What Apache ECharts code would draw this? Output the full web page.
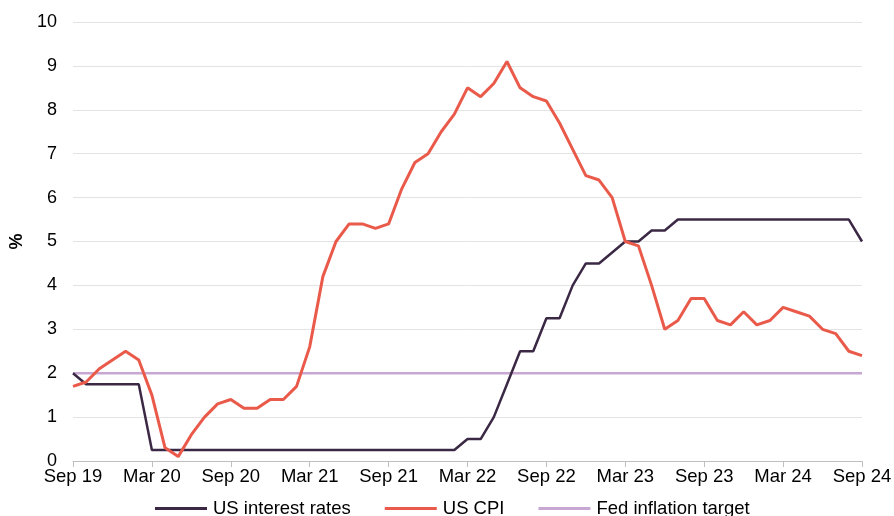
<!DOCTYPE html>
<html>
<head>
<meta charset="utf-8">
<script src="https://cdn.jsdelivr.net/npm/echarts@6/dist/echarts.min.js"></script>
<style>
  html, body { margin: 0; padding: 0; background: #fff; }
  #chart { width: 894px; height: 516px; }
</style>
</head>
<body>
<div id="chart"></div>
<script>
// monthly, Sep 2019 .. Sep 2024
const monthNames = ['Jan','Feb','Mar','Apr','May','Jun','Jul','Aug','Sep','Oct','Nov','Dec'];
const months = [];
for (let y = 2019, m = 8; y < 2024 || (y === 2024 && m <= 8); m++) {
  if (m === 12) { m = 0; y++; }
  months.push(monthNames[m] + ' ' + String(y).slice(2));
}

const interestRates = [
  2.0, 1.75, 1.75, 1.75, 1.75, 1.75, 0.25, 0.25, 0.25, 0.25, 0.25, 0.25,
  0.25, 0.25, 0.25, 0.25, 0.25, 0.25, 0.25, 0.25, 0.25, 0.25, 0.25, 0.25,
  0.25, 0.25, 0.25, 0.25, 0.25, 0.25, 0.5, 0.5, 1.0, 1.75, 2.5, 2.5,
  3.25, 3.25, 4.0, 4.5, 4.5, 4.75, 5.0, 5.0, 5.25, 5.25, 5.5, 5.5,
  5.5, 5.5, 5.5, 5.5, 5.5, 5.5, 5.5, 5.5, 5.5, 5.5, 5.5, 5.5, 5.0
];

const usCpi = [
  1.7, 1.8, 2.1, 2.3, 2.5, 2.3, 1.5, 0.3, 0.1, 0.6, 1.0, 1.3,
  1.4, 1.2, 1.2, 1.4, 1.4, 1.7, 2.6, 4.2, 5.0, 5.4, 5.4, 5.3,
  5.4, 6.2, 6.8, 7.0, 7.5, 7.9, 8.5, 8.3, 8.6, 9.1, 8.5, 8.3,
  8.2, 7.7, 7.1, 6.5, 6.4, 6.0, 5.0, 4.9, 4.0, 3.0, 3.2, 3.7,
  3.7, 3.2, 3.1, 3.4, 3.1, 3.2, 3.5, 3.4, 3.3, 3.0, 2.9, 2.5, 2.4
];

const fedTarget = months.map(() => 2);

const textFont = 'Liberation Sans, Arial, sans-serif';
const chart = echarts.init(document.getElementById('chart'));

const option = {
  animation: false,
  grid: { left: 73, right: 32, top: 22, bottom: 55, outerBoundsMode: 'none' },
  legend: {
    top: 499,
    left: 155,
    padding: 0,
    icon: 'rect',
    itemWidth: 52,
    itemHeight: 3,
    itemGap: 34,
    textStyle: { fontFamily: textFont, fontSize: 18.5, color: '#000', padding: [0, 0, 0, 1] },
    data: ['US interest rates', 'US CPI', 'Fed inflation target']
  },
  xAxis: {
    type: 'category',
    boundaryGap: false,
    data: months,
    axisLine: { lineStyle: { color: '#bfbfbf', width: 1 } },
    axisTick: { interval: 5, length: 6, lineStyle: { color: '#bfbfbf' } },
    axisLabel: {
      interval: 5,
      margin: 6,
      fontFamily: textFont,
      fontSize: 18.5,
      color: '#000'
    }
  },
  yAxis: {
    type: 'value',
    min: 0,
    max: 10,
    interval: 1,
    name: '%',
    nameLocation: 'middle',
    nameRotate: 90,
    nameGap: 43,
    nameTextStyle: { fontFamily: textFont, fontSize: 18, fontWeight: 'bold', color: '#000' },
    axisLine: { show: false },
    axisTick: { show: false },
    axisLabel: { margin: 16, fontFamily: textFont, fontSize: 18, color: '#000' },
    splitLine: { lineStyle: { color: '#e3e3e3', width: 1 } }
  },
  series: [
    {
      name: 'Fed inflation target',
      type: 'line',
      data: fedTarget,
      showSymbol: false,
      lineStyle: { color: '#c8a7d3', width: 2.5 },
      itemStyle: { color: '#c8a7d3' },
      z: 1
    },
    {
      name: 'US interest rates',
      type: 'line',
      data: interestRates,
      showSymbol: false,
      lineStyle: { color: '#3b2844', width: 2.5 },
      itemStyle: { color: '#3b2844' },
      z: 2
    },
    {
      name: 'US CPI',
      type: 'line',
      data: usCpi,
      showSymbol: false,
      lineStyle: { color: '#ea5a4a', width: 3 },
      itemStyle: { color: '#ea5a4a' },
      z: 3
    }
  ]
};

chart.setOption(option);
</script>
</body>
</html>
